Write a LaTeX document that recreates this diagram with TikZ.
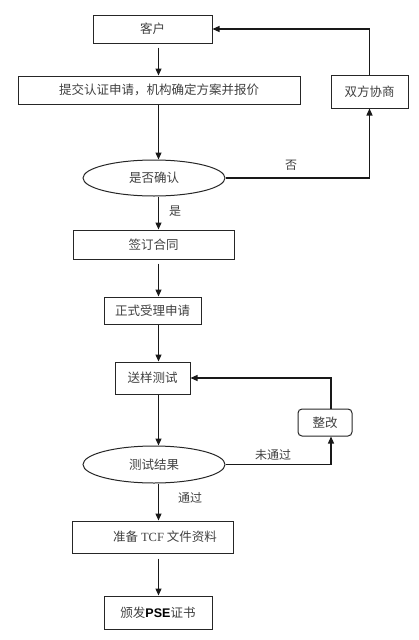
\documentclass[tikz,border=0pt]{standalone}
\usepackage{fontspec}
\setmainfont{Noto Sans CJK SC}
\newfontfamily\latinserif{Liberation Serif}
\newfontfamily\psefont{Liberation Sans}
\usetikzlibrary{arrows.meta,shapes.geometric}
\begin{document}
\begin{tikzpicture}[x=1pt,y=-1pt,
  every node/.style={font=\fontsize{12.5}{14}\selectfont, text=black!75, inner sep=0pt},
  box/.style={draw=black!85, line width=1pt, rectangle},
  rbox/.style={box, rounded corners=4pt},
  oval/.style={draw=black!85, line width=1pt, ellipse},
  arr/.style={draw=black!90, line width=1.2pt, -{Triangle[width=6pt,length=7pt]}},
  lbl/.style={font=\fontsize{12}{14}\selectfont, text=black!75}]
\useasboundingbox (0,0) rectangle (418,640);
\coordinate (ax) at (158.5,0);
\coordinate (rx) at (331,0);

\node[box, minimum width=119pt, minimum height=28pt] (kh) at (152.5,29) {客户};
\node[box, minimum width=282pt, minimum height=28pt] (tj) at (159,90) {提交认证申请，机构确定方案并报价};
\node[box, minimum width=77pt, minimum height=33pt] (sf) at (369.5,91.5) {双方协商};
\node[oval, minimum width=142pt, minimum height=36pt] (qr) at (154,178) {是否确认};
\node[box, minimum width=161pt, minimum height=29pt] (qd) at (153.5,244.5) {签订合同};
\node[box, minimum width=97pt, minimum height=27pt] (zs) at (152.5,310.5) {正式受理申请};
\node[box, minimum width=75pt, minimum height=32pt] (sy) at (152.5,378) {送样测试};
\node[rbox, minimum width=54pt, minimum height=27pt] (zg) at (325,422.5) {整改};
\node[oval, minimum width=142pt, minimum height=37pt] (jg) at (154,464.5) {测试结果};
\node[box, minimum width=161pt, minimum height=32pt] (zb) at (152.5,537) {};
\node (zbt) at (165,537) {准备 {\latinserif TCF} 文件资料};
\node[box, minimum width=108pt, minimum height=33pt] (bf) at (158,612.5) {颁发{\psefont\bfseries\color{black}PSE}证书};

% main flow
\draw[arr, shorten <=4pt] (kh.south -| ax) -- (tj.north -| ax);
\draw[arr] (tj.south -| ax) -- (qr.north -| ax);
\draw[arr] (qr.south -| ax) -- (qd.north -| ax);
\draw[arr, shorten <=4pt] (qd.south -| ax) -- (zs.north -| ax);
\draw[arr] (zs.south -| ax) -- (sy.north -| ax);
\draw[arr] (sy.south -| ax) -- (jg.north -| ax);
\draw[arr] (jg.south -| ax) -- (zb.north -| ax);
\draw[arr, shorten <=5pt] (zb.south -| ax) -- (bf.north -| ax);

% loops
\draw[arr] (qr.east) -- (qr.east -| sf.south) -- (sf.south);
\draw[arr] (sf.north) -- (sf.north |- kh.east) -- (kh.east);
\draw[arr] (jg.east) -- (jg.east -| rx) -- (zg.south -| rx);
\draw[arr] (zg.north -| rx) -- (sy.east -| rx) -- (sy.east);

% labels
\node[lbl] (no) at (291,165) {否};
\node[lbl] (yes) at (175,211) {是};
\node[lbl] (fail) at (273,455) {未通过};
\node[lbl] (pass) at (190,498) {通过};
\end{tikzpicture}
\end{document}
